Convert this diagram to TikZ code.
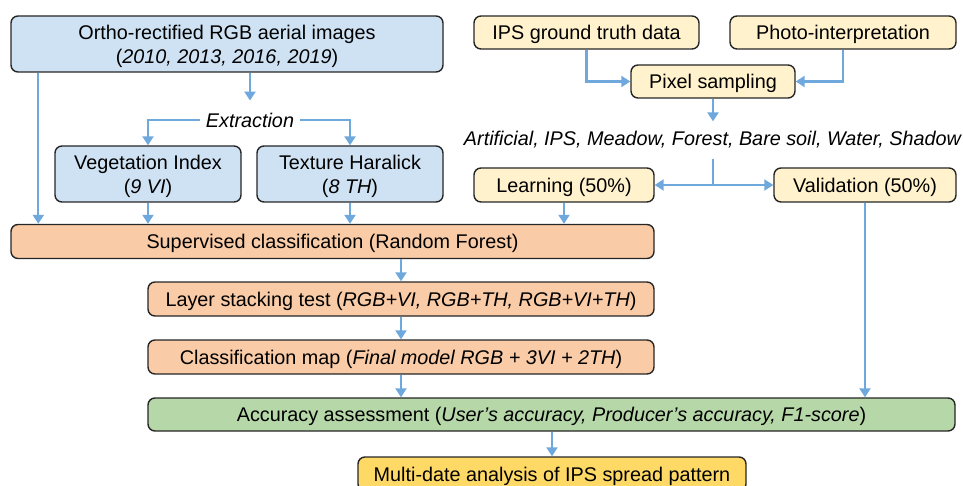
\documentclass[tikz,border=0pt]{standalone}
\usepackage{fontspec}
\setmainfont{Liberation Sans}
\usetikzlibrary{arrows.meta,calc}
\definecolor{boxblue}{HTML}{CFE2F3}
\definecolor{boxyellow}{HTML}{FFF2CC}
\definecolor{boxsalmon}{HTML}{F9CBA6}
\definecolor{boxgreen}{HTML}{B6D7A8}
\definecolor{boxgold}{HTML}{FFD966}
\definecolor{arrowblue}{HTML}{6FA8DC}
\begin{document}
\begin{tikzpicture}[x=1pt,y=-1pt,
  every node/.style={font=\fontsize{19.8}{24}\selectfont, inner sep=0pt, align=center},
  box/.style={draw=black!85, line width=1.4pt, rounded corners=7pt, text depth=0pt, minimum height=#1},
  box/.default=34pt,
  flow/.style={draw=arrowblue, line width=2.2pt, -{Triangle[width=11pt,length=9pt]}},
  link/.style={draw=arrowblue, line width=2.2pt}]

\useasboundingbox (0,0) rectangle (963,486);

\node[box=56pt, fill=boxblue, minimum width=432pt] (ortho) at (227,44) {Ortho-rectified RGB aerial images\\(\textit{2010, 2013, 2016, 2019})};
\node[] (extr) at (250,120) {\textit{Extraction}};
\node[box=56pt, fill=boxblue, minimum width=186pt] (vi) at (148,174) {Vegetation Index\\(\textit{9 VI})};
\node[box=56pt, fill=boxblue, minimum width=186pt] (th) at (350,174) {Texture Haralick\\(\textit{8 TH})};

\node[box=33pt, fill=boxyellow, minimum width=225pt] (ipsgt) at (586.5,32.5) {IPS ground truth data};
\node[box=33pt, fill=boxyellow, minimum width=226pt] (photo) at (843,32.5) {Photo-interpretation};
\node[box=33pt, fill=boxyellow, minimum width=164pt] (pixel) at (713,81.5) {Pixel sampling};
\node[] (classes) at (713,140) {\textit{Artificial, IPS, Meadow, Forest, Bare soil, Water, Shadow}};
\node[box, fill=boxyellow, minimum width=180pt] (learn) at (564,185) {Learning (50\%)};
\node[box, fill=boxyellow, minimum width=182pt] (valid) at (865,185) {Validation (50\%)};

\node[box, fill=boxsalmon, minimum width=643pt] (superv) at (332.5,241.5) {Supervised classification (Random Forest)};
\node[box, fill=boxsalmon, minimum width=506pt] (stack) at (401,299) {Layer stacking test (\textit{RGB+VI, RGB+TH, RGB+VI+TH})};
\node[box, fill=boxsalmon, minimum width=506pt] (cmap) at (401,357) {Classification map (\textit{Final model RGB + 3VI + 2TH})};
\node[box=33pt, fill=boxgreen, minimum width=807pt] (accur) at (551.5,414.5) {Accuracy assessment (\textit{User's accuracy, Producer's accuracy, F1-score})};
\node[box, fill=boxgold, minimum width=388pt] (multi) at (552,474) {Multi-date analysis of IPS spread pattern};

\draw[flow] (ortho.south -| extr.north) -- ([yshift=12pt]extr.north);
\draw[flow] ([xshift=-6pt]extr.west) -| (vi.north);
\draw[flow] ([xshift=6pt]extr.east) -| (th.north);
\draw[flow] ([xshift=28pt]ortho.south west) -- ([xshift=28pt]superv.north west);
\draw[flow] (vi.south) -- (vi.south |- superv.north);
\draw[flow] (th.south) -- (th.south |- superv.north);

\draw[flow] (ipsgt.south) |- (pixel.west);
\draw[flow] (photo.south) |- (pixel.east);
\draw[flow] (pixel.south) -- ([yshift=10pt]classes.north);
\coordinate (split) at (classes.south |- learn.east);
\draw[link] ([yshift=-10pt]classes.south) -- (split);
\draw[flow] (split) -- (learn.east);
\draw[flow] (split) -- (valid.west);
\draw[flow] (learn.south) -- (learn.south |- superv.north);

\draw[flow] (superv.south -| stack.north) -- (stack.north);
\draw[flow] (stack.south) -- (cmap.north);
\draw[flow] (cmap.south) -- (cmap.south |- accur.north);
\draw[flow] (valid.south) -- (valid.south |- accur.north);
\draw[flow] (accur.south -| multi.north) -- (multi.north);
\end{tikzpicture}
\end{document}
